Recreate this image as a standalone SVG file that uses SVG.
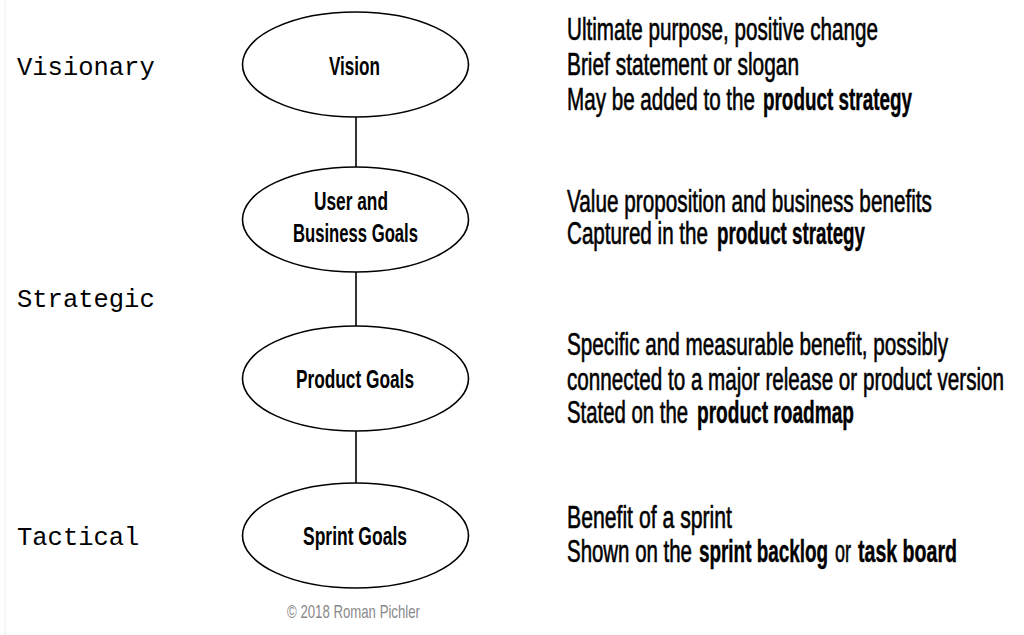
<svg xmlns="http://www.w3.org/2000/svg" width="1024" height="635" viewBox="0 0 1024 635">
<style>
.node ellipse{fill:#fff;stroke:#000;stroke-width:1.6}
.conn line{stroke:#000;stroke-width:1.6}
.lbl{font-family:"Liberation Sans",Arial,sans-serif;font-weight:bold;font-size:25px;fill:#000}
.lvl{font-family:"Liberation Mono","Courier New",monospace;font-size:25.5px;fill:#000}
.d{font-family:"Liberation Sans",Arial,sans-serif;font-size:30.5px;fill:#000;stroke:#000;stroke-width:0.6}
.b{font-weight:bold;stroke-width:0.4}
.copy{font-family:"Liberation Sans",Arial,sans-serif;font-size:18px;fill:#8a8a8a}
</style>
<rect x="0" y="0" width="1024" height="635" fill="#fff"/>
<line x1="5" y1="0" x2="5" y2="635" stroke="#ececec" stroke-width="1"/>

<g id="levels">
<text class="lvl" x="17" y="75">Visionary</text>
<text class="lvl" x="17" y="307">Strategic</text>
<text class="lvl" x="17" y="545">Tactical</text>
</g>

<g id="connectors" class="conn">
<line x1="356" y1="117" x2="356" y2="168"/>
<line x1="356" y1="272" x2="356" y2="326"/>
<line x1="356" y1="431" x2="356" y2="484"/>
</g>

<g id="vision" class="node">
<ellipse cx="355.5" cy="64.5" rx="113" ry="52.5"/>
<text class="lbl" transform="translate(329,75) scale(0.68,1)" x="0" y="0" textLength="75" lengthAdjust="spacingAndGlyphs">Vision</text>
</g>
<g id="user-business-goals" class="node">
<ellipse cx="355.5" cy="219.5" rx="113" ry="52.5"/>
<text class="lbl" transform="translate(314,210) scale(0.68,1)" x="0" y="0" textLength="108.8" lengthAdjust="spacingAndGlyphs">User and</text>
<text class="lbl" transform="translate(293,242) scale(0.68,1)" x="0" y="0" textLength="183.8" lengthAdjust="spacingAndGlyphs">Business Goals</text>
</g>
<g id="product-goals" class="node">
<ellipse cx="355.5" cy="378.5" rx="113" ry="52.5"/>
<text class="lbl" transform="translate(296,388) scale(0.68,1)" x="0" y="0" textLength="173.5" lengthAdjust="spacingAndGlyphs">Product Goals</text>
</g>
<g id="sprint-goals" class="node">
<ellipse cx="355.5" cy="535.5" rx="113" ry="52.5"/>
<text class="lbl" transform="translate(303,545) scale(0.68,1)" x="0" y="0" textLength="152.9" lengthAdjust="spacingAndGlyphs">Sprint Goals</text>
</g>

<g id="descriptions" transform="translate(567,0) scale(0.64,1)">
<g id="desc-vision">
<text class="d" x="0" y="40" textLength="485.9" lengthAdjust="spacingAndGlyphs">Ultimate purpose, positive change</text>
<text class="d" x="0" y="75" textLength="362.5" lengthAdjust="spacingAndGlyphs">Brief statement or slogan</text>
<text class="d" y="110"><tspan x="0" textLength="293.75" lengthAdjust="spacingAndGlyphs">May be added to the</tspan><tspan class="b" x="306.25" textLength="232.8" lengthAdjust="spacingAndGlyphs">product strategy</tspan></text>
</g>
<g id="desc-user-business">
<text class="d" x="0" y="212" textLength="570.3" lengthAdjust="spacingAndGlyphs">Value proposition and business benefits</text>
<text class="d" y="244"><tspan x="0" textLength="220.3" lengthAdjust="spacingAndGlyphs">Captured in the</tspan><tspan class="b" x="234.4" textLength="231.25" lengthAdjust="spacingAndGlyphs">product strategy</tspan></text>
</g>
<g id="desc-product">
<text class="d" x="0" y="355" textLength="595.3" lengthAdjust="spacingAndGlyphs">Specific and measurable benefit, possibly</text>
<text class="d" x="0" y="390" textLength="682.8" lengthAdjust="spacingAndGlyphs">connected to a major release or product version</text>
<text class="d" y="423"><tspan x="0" textLength="189.1" lengthAdjust="spacingAndGlyphs">Stated on the</tspan><tspan class="b" x="203.1" textLength="245.3" lengthAdjust="spacingAndGlyphs">product roadmap</tspan></text>
</g>
<g id="desc-sprint">
<text class="d" x="0" y="528" textLength="257.8" lengthAdjust="spacingAndGlyphs">Benefit of a sprint</text>
<text class="d" y="562"><tspan x="0" textLength="195.3" lengthAdjust="spacingAndGlyphs">Shown on the</tspan><tspan class="b" x="206.25" textLength="201.6" lengthAdjust="spacingAndGlyphs">sprint backlog</tspan><tspan x="418.75" textLength="25" lengthAdjust="spacingAndGlyphs">or</tspan><tspan class="b" x="454.7" textLength="154.7" lengthAdjust="spacingAndGlyphs">task board</tspan></text>
</g>
</g>

<text class="copy" transform="translate(287,618) scale(0.74,1)" x="0" y="0" textLength="179.7" lengthAdjust="spacingAndGlyphs">© 2018 Roman Pichler</text>
</svg>
